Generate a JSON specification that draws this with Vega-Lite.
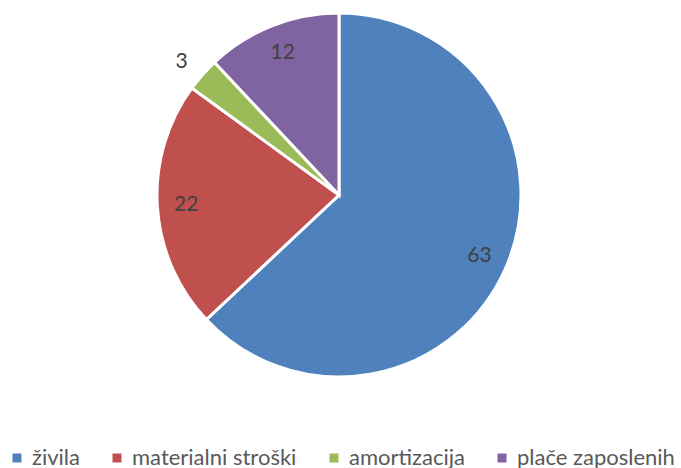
{
  "$schema": "https://vega.github.io/schema/vega-lite/v6.json",
  "width": 678,
  "height": 390,
  "padding": {"left": 0, "top": 0, "right": 3, "bottom": 78},
  "autosize": "none",
  "background": "white",
  "config": {"view": {"stroke": null}, "font": "Lato"},
  "data": {
    "values": [
      {"kategorija": "živila", "vrednost": 63, "red": 1},
      {"kategorija": "materialni stroški", "vrednost": 22, "red": 2},
      {"kategorija": "amortizacija", "vrednost": 3, "red": 3},
      {"kategorija": "plače zaposlenih", "vrednost": 12, "red": 4}
    ]
  },
  "encoding": {
    "theta": {"field": "vrednost", "type": "quantitative", "stack": true},
    "order": {"field": "red", "type": "quantitative"}
  },
  "layer": [
    {
      "mark": {"type": "arc", "outerRadius": 182, "stroke": "white", "strokeWidth": 3},
      "encoding": {
        "color": {
          "field": "kategorija",
          "type": "nominal",
          "sort": ["živila", "materialni stroški", "amortizacija", "plače zaposlenih"],
          "scale": {
            "domain": ["živila", "materialni stroški", "amortizacija", "plače zaposlenih"],
            "range": ["#4F81BD", "#C0504D", "#9BBB59", "#8064A2"]
          },
          "legend": {
            "title": null,
            "orient": "none",
            "direction": "horizontal",
            "columns": 4,
            "gridAlign": "none",
            "legendX": 6,
            "legendY": 447,
            "symbolType": "square",
            "symbolSize": 81,
            "symbolStrokeWidth": 0,
            "labelFontSize": 22,
            "labelFont": "Lato",
            "labelColor": "#595959",
            "labelOffset": 4,
            "columnPadding": 26,
            "labelLimit": 400
          }
        }
      }
    },
    {
      "mark": {"type": "text", "radius": 153, "fontSize": 21, "color": "#404040", "font": "Lato"},
      "encoding": {
        "text": {"field": "vrednost", "type": "quantitative"},
        "opacity": {"condition": {"test": "datum.vrednost < 5", "value": 0}, "value": 1}
      }
    },
    {
      "mark": {"type": "text", "radius": 206, "fontSize": 21, "color": "#404040", "font": "Lato", "thetaOffset": -0.022},
      "encoding": {
        "text": {"field": "vrednost", "type": "quantitative"},
        "opacity": {"condition": {"test": "datum.vrednost < 5", "value": 1}, "value": 0}
      }
    }
  ]
}
